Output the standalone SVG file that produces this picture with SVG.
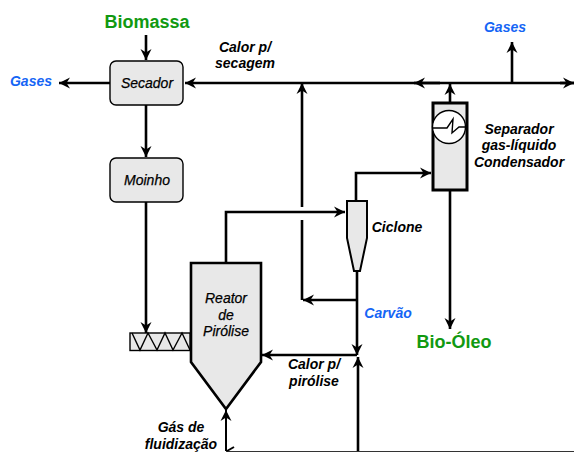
<svg xmlns="http://www.w3.org/2000/svg" width="574" height="452" viewBox="0 0 574 452">
<defs>
<marker id="ah" markerUnits="userSpaceOnUse" markerWidth="14" markerHeight="14" refX="11" refY="6" orient="auto"><path d="M11 6L0 .5L3.500 6L0 11.500Z" fill="#000"/></marker>
</defs>
<style>
text{font-family:"Liberation Sans",Arial,sans-serif;text-anchor:middle}
.l{font-size:14px;font-weight:bold;font-style:italic;fill:#000}
.n{font-size:14px;font-style:italic;fill:#000;stroke:#000;stroke-width:.25}
.b{font-size:14px;font-weight:bold;font-style:italic;fill:#1565f5}
.g{font-size:18px;font-weight:bold;fill:#119911}
.w{fill:none;stroke:#000;stroke-width:2.6}
.e{fill:none;stroke:#000;stroke-width:2.6;marker-end:url(#ah)}
.f{fill:#e8e8e8;stroke:#000;stroke-width:2.6}
</style>
<rect width="574" height="452" fill="#fff"/>
<g id="connectors">
<path class="e" d="M146 35V60"/>
<path class="e" d="M146 105V157"/>
<path class="e" d="M146 202V333"/>
<path class="e" d="M110 83H59"/>
<path class="w" d="M414 83H574"/>
<path class="e" d="M440 83H414"/>
<path class="e" d="M414 83H185"/>
<path class="e" d="M560 83H574"/>
<path class="e" d="M302 207V83"/>
<path class="w" d="M302 220V300"/>
<path class="e" d="M357 300H303"/>
<path class="e" d="M357 272V355"/>
<path class="e" d="M357 355H262"/>
<path class="e" d="M358 452V357"/>
<path class="e" d="M450 102V84"/>
<path class="e" d="M512 83V42"/>
<path class="e" d="M356 200V173H431"/>
<path class="e" d="M450 190V329"/>
<path class="e" d="M226 263V212H345"/>
<path class="e" d="M226 451V410" style="stroke-width:2"/>
<path d="M226 451.500H574" fill="none" stroke="#333" stroke-width="1"/>
<path d="M227 451L234 447" fill="none" stroke="#000" stroke-width="2"/>
</g>
<g id="secador"><rect class="f" x="110" y="61" width="73" height="44" rx="6" style="stroke-width:1.4"/><text class="n" x="147" y="88">Secador</text></g>
<g id="moinho"><rect class="f" x="110" y="158" width="73" height="44" rx="6" style="stroke-width:1.4"/><text class="n" x="147" y="185">Moinho</text></g>
<g id="separador"><rect class="f" x="433" y="103" width="34" height="87" style="stroke-width:3"/><circle cx="449" cy="127" r="16.500" fill="#fff" stroke="#000" stroke-width="1.400"/><path d="M433 128H447L453 119L452 133L459 127H466" fill="none" stroke="#000" stroke-width="1.400"/></g>
<g id="ciclone"><path class="f" d="M347 201H367V238L360 271H354L347 238Z" style="stroke-width:2"/></g>
<g id="reator"><path class="f" d="M191 263H261V362L226 409L191 362Z"/><text class="n" x="226" y="303">Reator</text><text class="n" x="226" y="320">de</text><text class="n" x="226" y="336">Pirólise</text></g>
<g id="rosca"><rect x="130" y="333" width="60" height="17.500" fill="#e8e8e8" stroke="#000" stroke-width="1.400"/><path d="M132 333L140 350L148 333L157 350L165 333L173 350L182 333L190 350" fill="none" stroke="#000" stroke-width="1.400"/></g>
<g id="labels">
<text class="g" x="147" y="28">Biomassa</text>
<text class="b" x="31" y="86">Gases</text>
<text class="b" x="505" y="32">Gases</text>
<text class="b" x="388" y="318">Carvão</text>
<text class="g" x="454" y="348">Bio-Óleo</text>
<text class="l" x="245" y="52">Calor p/</text><text class="l" x="245" y="68">secagem</text>
<text class="l" x="519" y="134">Separador</text><text class="l" x="519" y="150">gas-líquido</text><text class="l" x="519" y="167">Condensador</text>
<text class="l" x="397" y="232">Ciclone</text>
<text class="l" x="314" y="369">Calor p/</text><text class="l" x="314" y="386">pirólise</text>
<text class="l" x="181" y="432">Gás de</text><text class="l" x="181" y="449">fluidização</text>
</g>
</svg>
